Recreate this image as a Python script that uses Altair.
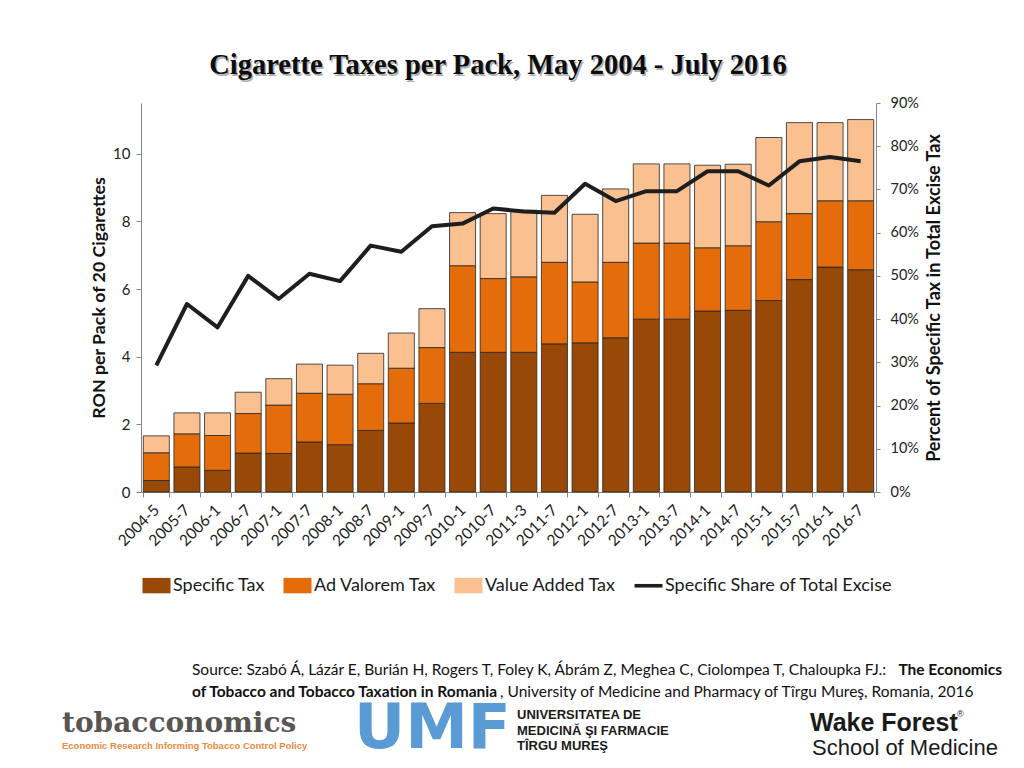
import altair as alt
import pandas as pd

# ---------------- data ----------------
periods = ["2004-5", "2005-7", "2006-1", "2006-7", "2007-1", "2007-7", "2008-1", "2008-7",
           "2009-1", "2009-7", "2010-1", "2010-7", "2011-3", "2011-7", "2012-1", "2012-7",
           "2013-1", "2013-7", "2014-1", "2014-7", "2015-1", "2015-7", "2016-1", "2016-7"]
specific_tax = [0.34, 0.74, 0.64, 1.15, 1.14, 1.48, 1.40, 1.82, 2.04, 2.62, 4.13, 4.13,
                4.13, 4.38, 4.41, 4.56, 5.11, 5.11, 5.35, 5.37, 5.66, 6.28, 6.65, 6.57]
ad_valorem_tax = [0.82, 0.98, 1.03, 1.17, 1.43, 1.44, 1.49, 1.38, 1.62, 1.65, 2.56, 2.18,
                  2.23, 2.41, 1.80, 2.23, 2.25, 2.25, 1.87, 1.91, 2.33, 1.95, 1.96, 2.04]
value_added_tax = [0.50, 0.62, 0.67, 0.63, 0.78, 0.86, 0.86, 0.90, 1.04, 1.15, 1.57, 1.92,
                   1.97, 1.98, 2.00, 2.17, 2.34, 2.34, 2.44, 2.41, 2.49, 2.69, 2.31, 2.40]
specific_share_pct = [29.3, 43.5, 38.1, 50.0, 44.7, 50.5, 48.8, 57.0, 55.6, 61.5, 62.1, 65.6,
                      64.9, 64.6, 71.3, 67.3, 69.6, 69.6, 74.2, 74.2, 70.9, 76.5, 77.5, 76.5]

series_names = ["Specific Tax", "Ad Valorem Tax", "Value Added Tax", "Specific Share of Total Excise"]
series_colors = ["#984807", "#E46C0A", "#FAC090", "#1E1E1E"]

left_ticks = [0, 2, 4, 6, 8, 10]
right_ticks = [0, 0.1, 0.2, 0.3, 0.4, 0.5, 0.6, 0.7, 0.8, 0.9]

title_text = "Cigarette Taxes per Pack, May 2004 - July 2016"
source_1 = "Source: Szabó Á, Lázár E, Burián H, Rogers T, Foley K, Ábrám Z, Meghea C, Ciolompea T, Chaloupka FJ.:"
source_1b = "The Economics"
source_2a = "of Tobacco and Tobacco Taxation in Romania"
source_2b = ", University of Medicine and Pharmacy of Tîrgu Mureş, Romania, 2016"

# ---------------- tables ----------------
rows = []
for i, p in enumerate(periods):
    for k, vals in enumerate([specific_tax, ad_valorem_tax, value_added_tax]):
        rows.append({"period": p, "series": series_names[k], "value": vals[i], "order": k})
bars_df = pd.DataFrame(rows)
line_df = pd.DataFrame({"period": periods, "share": [v / 100 for v in specific_share_pct]})
legend_df = pd.DataFrame({"series": series_names})

FONT = "Lato"
AX = "#868686"

color_scale = alt.Scale(domain=series_names, range=series_colors)
rect_path = "M-1,-0.55L1,-0.55L1,0.55L-1,0.55Z"
line_path = "M-1,-0.13L1,-0.13L1,0.13L-1,0.13Z"
shape_scale = alt.Scale(domain=series_names, range=[rect_path, rect_path, rect_path, line_path])

legend = alt.Legend(
    title=None, orient="none", legendX=1, legendY=468, direction="horizontal", columns=4,
    symbolSize=784, labelFontSize=18, labelFont=FONT, labelColor="#1a1a1a", labelOffset=2,
    columnPadding=15, symbolStrokeColor="#262626", symbolStrokeWidth=0.8, padding=0,
    symbolOpacity=1, labelLimit=400,
)

x_enc = alt.X(
    "period:N", sort=periods,
    scale=alt.Scale(paddingInner=0.15, paddingOuter=0.075),
    axis=alt.Axis(title=None, labelAngle=-45, labelAlign="right", labelBaseline="middle",
                  tickBand="extent", tickSize=5, labelPadding=10, labelFontSize=15.5,
                  labelFont=FONT, labelColor="#222", domainColor=AX, tickColor=AX),
)

bars = alt.Chart(bars_df).mark_bar(stroke="#262626", strokeWidth=0.8).encode(
    x=x_enc,
    y=alt.Y("value:Q", stack="zero",
            scale=alt.Scale(domain=[0, 11.5], nice=False, zero=True),
            axis=alt.Axis(title="RON per Pack of 20 Cigarettes", values=left_ticks, orient="left",
                          tickSize=5, labelPadding=6, labelFontSize=15, labelFont=FONT,
                          labelColor="#222", domainColor=AX, tickColor=AX,
                          titleFont=FONT, titleFontSize=17.8, titleFontWeight="bold",
                          titleColor="#111", titlePadding=4)),
    color=alt.Color("series:N", scale=color_scale, legend=legend),
    order=alt.Order("order:Q", sort="ascending"),
)

line = alt.Chart(line_df).mark_line(color="#1E1E1E", strokeWidth=4, strokeJoin="round").encode(
    x=alt.X("period:N", sort=periods),
    y=alt.Y("share:Q", scale=alt.Scale(domain=[0, 0.9], nice=False),
            axis=alt.Axis(title="Percent of Specific Tax in Total Excise Tax", values=right_ticks,
                          format=".0%", orient="right", tickSize=4, labelPadding=10,
                          labelFontSize=14.5, labelFont=FONT, labelColor="#222",
                          domainColor=AX, tickColor=AX, titleFont=FONT, titleFontSize=18,
                          titleFontWeight="bold", titleColor="#111", titlePadding=7,
                          titleAngle=270, titleBaseline="top")),
)

legend_pts = alt.Chart(legend_df).mark_point(filled=True, clip=True).encode(
    x=alt.value(-200), y=alt.value(-200),
    color=alt.Color("series:N", scale=color_scale, legend=legend),
    shape=alt.Shape("series:N", scale=shape_scale, legend=legend),
)


def note(text, x, y, size, weight="normal", color="#111", align="left", font=FONT):
    return alt.Chart(pd.DataFrame({"t": [text]})).mark_text(
        align=align, baseline="middle", fontSize=size, fontWeight=weight, color=color, font=font
    ).encode(x=alt.value(x), y=alt.value(y), text="t:N")


# positions relative to plot origin (141, 103)
notes = [
    note(title_text, 358.5, -36.5, 28.5, weight="bold", color="#b0b0b0", align="center",
         font="Liberation Serif"),
    note(title_text, 357, -38, 28.5, weight="bold", color="#0d0d0d", align="center",
         font="Liberation Serif"),
    note(source_1, 51, 567, 15.5),
    note(source_1b, 861, 567, 15.5, weight="bold", align="right"),
    note(source_2a, 51, 589, 15.5, weight="bold"),
    note(source_2b, 359, 589, 15.5),
    note("tobacconomics", -79, 621, 28, weight="bold", color="#5a5552", font="DejaVu Serif"),
    note("Economic Research Informing Tobacco Control Policy", -79, 643, 9.5, weight="bold",
         color="#EE8A3C", font="Liberation Sans"),
    note("UMF", 213, 626, 63, weight="bold", color="#5B9BD5", font="DejaVu Sans"),
    note("UNIVERSITATEA DE", 376, 612, 13, weight="bold", color="#1a1a1a", font="Liberation Sans"),
    note("MEDICINĂ ŞI FARMACIE", 376, 628, 13, weight="bold", color="#1a1a1a", font="Liberation Sans"),
    note("TÎRGU MUREŞ", 376, 643, 13, weight="bold", color="#1a1a1a", font="Liberation Sans"),
    note("Wake Forest", 669, 620, 25, weight="bold", color="#1a1a1a", font="Liberation Sans"),
    note("®", 816, 611, 9, color="#1a1a1a", font="Liberation Sans"),
    note("School of Medicine", 671, 645, 22, color="#1a1a1a", font="Liberation Sans"),
]

chart = alt.layer(bars, line, legend_pts, *notes).resolve_scale(
    y="independent"
).properties(
    width=735, height=389,
    autosize=alt.AutoSizeParams(type="none"),
    padding={"left": 133, "top": 95, "right": 140, "bottom": 273},
).configure_view(stroke=None).configure_axis(grid=False)

chart.save("out.html", embed_options={"renderer": "svg", "actions": False})
